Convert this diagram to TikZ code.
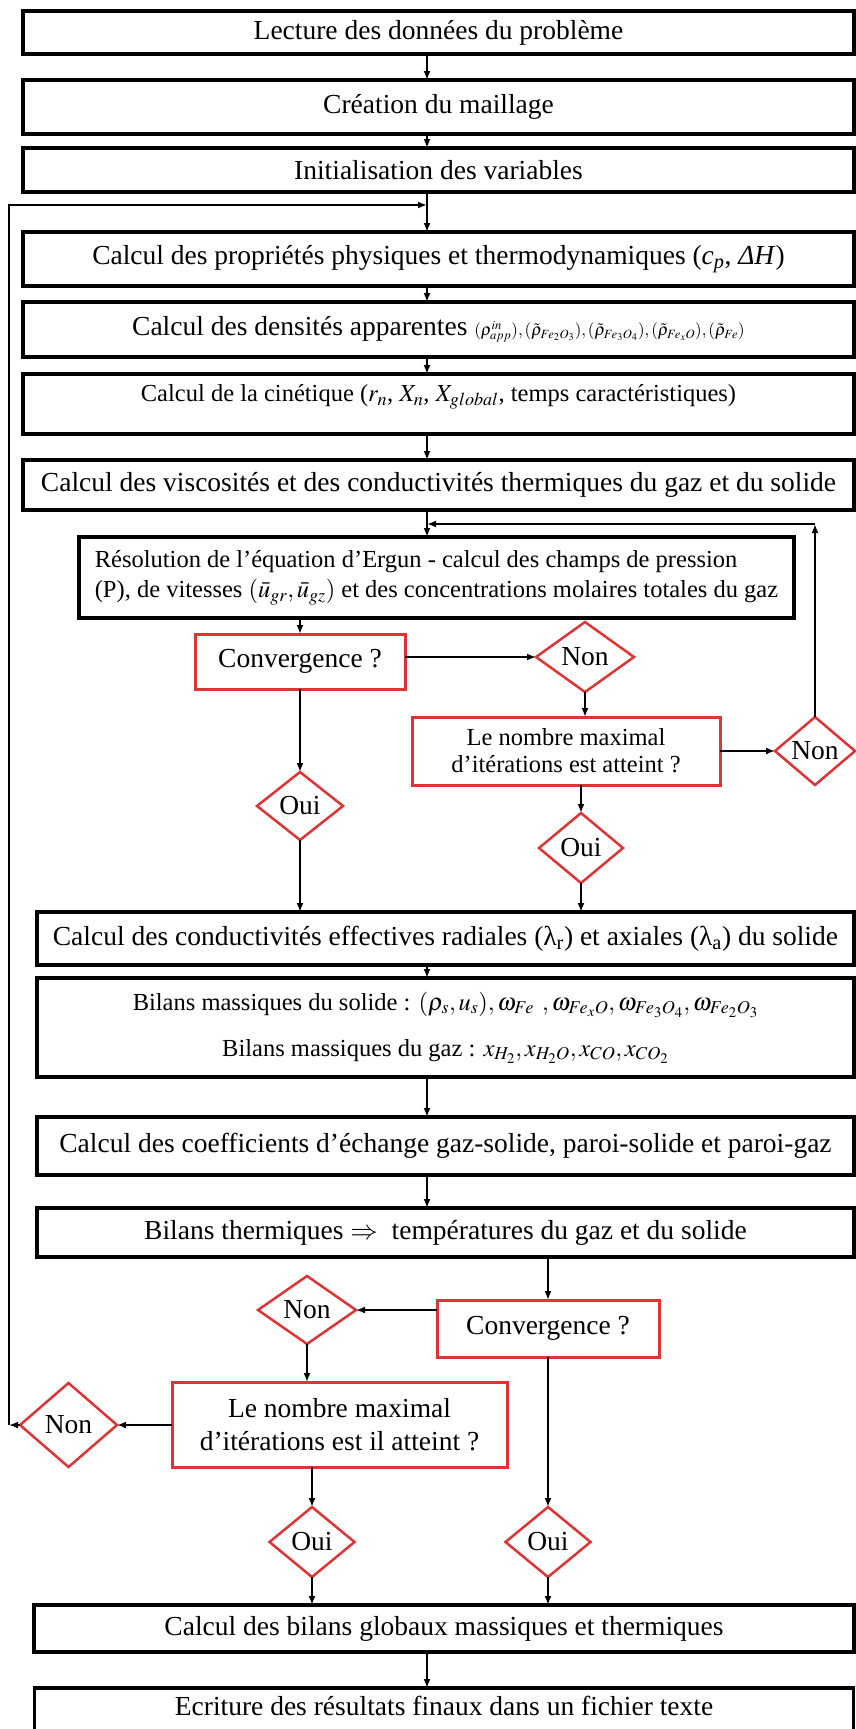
\documentclass[tikz,border=0pt]{standalone}
\usepackage{mathptmx}
\usepackage[no-math]{fontspec}
\setmainfont{Liberation Serif}
\usetikzlibrary{arrows.meta,positioning,shapes.geometric}
\definecolor{qred}{RGB}{222,52,52}
\newcommand{\fbig}{\fontsize{27.5pt}{33pt}\selectfont}
\newcommand{\fmid}{\fontsize{24.5pt}{30pt}\selectfont}
\newcommand{\fsml}{\fontsize{17pt}{20pt}\selectfont}
\tikzset{
  box/.style={draw,line width=3.5pt,inner sep=0pt,outer sep=0pt,align=center,fill=white,font=\fbig},
  qbox/.style={box,draw=qred,line width=3pt},
  dbox/.style={draw=qred,diamond,line width=2.5pt,inner sep=0pt,outer sep=0pt,fill=white,font=\fbig},
  wh/.style 2 args={minimum width=#1,minimum height=#2},
  arr/.style={-{Latex[length=9pt,width=7pt]},line width=2pt}
}

\begin{document}
\begin{tikzpicture}[x=1pt,y=-1pt]
\useasboundingbox (0,0) rectangle (856,1729);
\coordinate (sp) at (427,0);
% colonne principale
\node[box,wh={831pt}{43pt}] (lec) at (438.5,32.5) {Lecture des données du problème};
\node[box,wh={831pt}{54pt},below=26pt of lec] (mai) {Création du maillage};
\node[box,wh={831pt}{44pt},below=14pt of mai] (ini) {Initialisation des variables};
\node[box,wh={831pt}{54pt},below=40pt of ini] (pro) {Calcul des propriétés physiques et thermodynamiques (\textit{c}\textsubscript{\textit{p}}, \textit{ΔH})};
\node[box,wh={831pt}{55pt},below=16pt of pro] (den) {Calcul des densités apparentes {\fsml$(\rho^{in}_{app}),(\tilde{\rho}_{Fe_2O_3}),(\tilde{\rho}_{Fe_3O_4}),(\tilde{\rho}_{Fe_xO}),(\tilde{\rho}_{Fe})$}};
\node[box,wh={831pt}{60pt},below=17pt of den,font=\fmid,text depth=22pt] (cin) {Calcul de la cinétique ($r_n$, $X_n$, $X_{global}$, temps caractéristiques)};
\node[box,wh={831pt}{50pt},below=26pt of cin] (vis) {Calcul des viscosités et des conductivités thermiques du gaz et du solide};
\node[box,wh={715pt}{81pt},below=27pt of vis,xshift=-2pt,font=\fmid,align=left] (res) {Résolution de l’équation d’Ergun - calcul des champs de pression\\(P), de vitesses $(\bar{u}_{gr},\bar{u}_{gz})$ et des concentrations molaires totales du gaz};
% boucle de pression
\node[qbox,wh={210pt}{55pt}] (cv1) at (300,661.5) {Convergence ?};
\node[dbox,wh={98pt}{70pt}] (no1) at (585,657) {Non};
\node[qbox,wh={308pt}{68pt},font=\fontsize{24.5pt}{27pt}\selectfont] (nm1) at (566,751) {Le nombre maximal\\d’itérations est atteint ?};
\node[dbox,wh={80pt}{68pt}] (no2) at (815,751) {Non};
\node[dbox,wh={86pt}{68pt},below=83pt of cv1] (ou1) {Oui};
\node[dbox,wh={84pt}{70pt}] (ou2) at (581,848) {Oui};
% bilans
\node[box,wh={817pt}{53pt}] (cnd) at (445.5,938.5) {Calcul des conductivités effectives radiales (λ\textsubscript{r}) et axiales (λ\textsubscript{a}) du solide};
\node[box,wh={817pt}{99pt},below=13pt of cnd,font=\fmid] (bil) {Bilans massiques du solide : $(\rho_s,u_s),\omega_{Fe}\;\,,\omega_{Fe_xO},\omega_{Fe_3O_4},\omega_{Fe_2O_3}$\\[16pt]Bilans massiques du gaz : $x_{H_2},x_{H_2O},x_{CO},x_{CO_2}$};
\node[box,wh={817pt}{58pt},below=40pt of bil] (coe) {Calcul des coefficients d’échange gaz-solide, paroi-solide et paroi-gaz};
\node[box,wh={817pt}{49pt},below=33pt of coe] (the) {Bilans thermiques $\Rightarrow$\ \ températures du gaz et du solide};
% boucle thermique
\node[qbox,wh={222pt}{57pt}] (cv2) at (548,1328.5) {Convergence ?};
\node[dbox,wh={98pt}{68pt}] (no3) at (307,1310) {Non};
\node[qbox,wh={335pt}{85pt}] (nm2) at (339.5,1424.5) {Le nombre maximal\\d’itérations est il atteint ?};
\node[dbox,wh={97pt}{84pt}] (no4) at (68.5,1425) {Non};
\node[dbox,wh={85pt}{70pt}] (ou3) at (312,1542) {Oui};
\node[dbox,wh={85pt}{70pt}] (ou4) at (548,1542) {Oui};
\node[box,wh={820pt}{47pt}] (glo) at (444,1628.5) {Calcul des bilans globaux massiques et thermiques};
\node[box,wh={819pt}{80pt},below=36pt of glo,text depth=45pt] (ecr) {Ecriture des résultats finaux dans un fichier texte};
\coordinate (fb1) at (427,205);
\coordinate (fb2) at (427,524);
\coordinate (lb) at (9,1425);
% fleches
\draw[arr] (lec.south -| sp) -- (mai.north -| sp);
\draw[arr] (mai.south -| sp) -- (ini.north -| sp);
\draw[arr] (ini.south -| sp) -- (pro.north -| sp);
\draw[arr] (pro.south -| sp) -- (den.north -| sp);
\draw[arr] (den.south -| sp) -- (cin.north -| sp);
\draw[arr] (cin.south -| sp) -- (vis.north -| sp);
\draw[arr] (vis.south -| sp) -- (res.north -| sp);
\draw[arr] (cv1.north |- res.south) -- (cv1.north);
\draw[arr] (cv1.east |- no1.west) -- (no1.west);
\draw[arr] (no1.south) -- (no1.south |- nm1.north);
\draw[arr] (nm1.east |- no2.west) -- (no2.west);
\draw[arr] (no2.north) -- (no2.north |- fb2);
\draw[arr] (no2.north |- fb2) -- (fb2);
\draw[arr] (cv1.south) -- (ou1.north);
\draw[arr] (ou1.south) -- (ou1.south |- cnd.north);
\draw[arr] (ou2.north |- nm1.south) -- (ou2.north);
\draw[arr] (ou2.south) -- (ou2.south |- cnd.north);
\draw[arr] (cnd.south -| sp) -- (bil.north -| sp);
\draw[arr] (bil.south -| sp) -- (coe.north -| sp);
\draw[arr] (coe.south -| sp) -- (the.north -| sp);
\draw[arr] (cv2.north |- the.south) -- (cv2.north);
\draw[arr] (cv2.west |- no3.east) -- (no3.east);
\draw[arr] (no3.south) -- (no3.south |- nm2.north);
\draw[arr] (nm2.west |- no4.east) -- (no4.east);
\draw[arr] (no4.west) -- (lb);
\draw[arr] (lb) |- (fb1);
\draw[arr] (ou3.north |- nm2.south) -- (ou3.north);
\draw[arr] (cv2.south) -- (ou4.north);
\draw[arr] (ou3.south) -- (ou3.south |- glo.north);
\draw[arr] (ou4.south) -- (ou4.south |- glo.north);
\draw[arr] (glo.south -| sp) -- (ecr.north -| sp);
\end{tikzpicture}
\end{document}
